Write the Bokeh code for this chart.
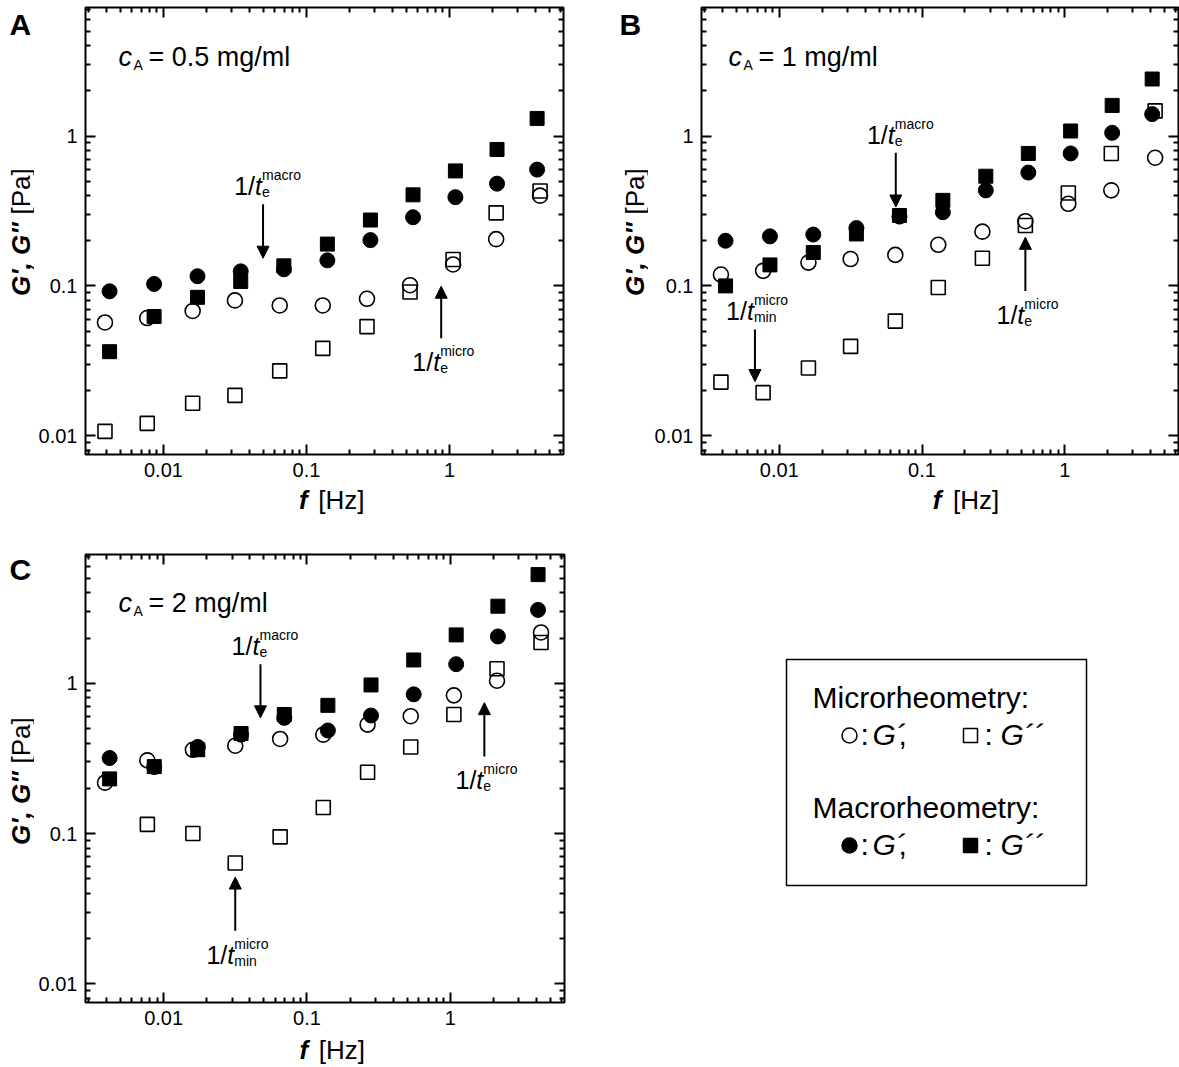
from bokeh.plotting import figure
from bokeh.models import Range1d, FixedTicker, Label, Arrow, NormalHead, LogAxis, CustomJSTickFormatter
from bokeh.layouts import column, row
from bokeh.embed import file_html
from bokeh.resources import INLINE

FONT = "Liberation Sans"

# ---------------- data ----------------
f_micro = [0.0039, 0.0077, 0.0160, 0.0316, 0.0650, 0.130, 0.265, 0.53, 1.06, 2.12, 4.3]
f_macro = [0.0042, 0.0086, 0.0173, 0.0347, 0.0695, 0.140, 0.280, 0.556, 1.10, 2.15, 4.1]

A_micro_G1 = [0.057, 0.061, 0.068, 0.080, 0.074, 0.074, 0.082, 0.101, 0.139, 0.205, 0.40]
A_micro_G2 = [0.0107, 0.0121, 0.0165, 0.0186, 0.0271, 0.0383, 0.0535, 0.091, 0.150, 0.307, 0.43]
A_macro_G1 = [0.092, 0.103, 0.116, 0.125, 0.129, 0.148, 0.202, 0.287, 0.391, 0.481, 0.597]
A_macro_G2 = [0.0364, 0.0625, 0.0839, 0.107, 0.136, 0.190, 0.275, 0.405, 0.585, 0.813, 1.31]

B_micro_G1 = [0.119, 0.126, 0.143, 0.151, 0.161, 0.188, 0.230, 0.270, 0.353, 0.434, 0.716]
B_micro_G2 = [0.0228, 0.0194, 0.0283, 0.0395, 0.0582, 0.0975, 0.153, 0.253, 0.417, 0.765, 1.47]
B_macro_G1 = [0.200, 0.214, 0.220, 0.243, 0.290, 0.310, 0.434, 0.570, 0.765, 1.05, 1.40]
B_macro_G2 = [0.100, 0.138, 0.167, 0.222, 0.295, 0.372, 0.539, 0.765, 1.08, 1.60, 2.40]

C_micro_G1 = [0.218, 0.307, 0.361, 0.384, 0.426, 0.455, 0.531, 0.604, 0.831, 1.04, 2.18]
C_micro_G2 = [float("nan"), 0.115, 0.100, 0.0636, 0.095, 0.149, 0.256, 0.377, 0.62, 1.25, 1.87]
C_macro_G1 = [0.318, 0.277, 0.377, 0.455, 0.589, 0.485, 0.61, 0.844, 1.34, 2.05, 3.08]
C_macro_G2 = [0.231, 0.279, 0.361, 0.463, 0.62, 0.713, 0.975, 1.43, 2.10, 3.26, 5.29]

conc_labels = ["= 0.5 mg/ml", "= 1 mg/ml", "= 2 mg/ml"]
panel_letters = ["A", "B", "C"]

# arrows: (x, y_tail, y_tip, subscript, superscript)
A_arrows = [(0.0497, 0.35, 0.153, "e", "macro"), (0.875, 0.0447, 0.0995, "e", "micro")]
B_arrows = [(0.0655, 0.773, 0.336, "e", "macro"), (0.00675, 0.0512, 0.023, "min", "micro"),
            (0.53, 0.0925, 0.211, "e", "micro")]
C_arrows = [(0.0474, 1.34, 0.589, "e", "macro"), (0.0316, 0.0225, 0.0513, "min", "micro"),
            (1.73, 0.326, 0.743, "e", "micro")]

x_lim = (0.00285, 6.27)
y_lim = (0.0075, 7.2)
major_ticks = [0.01, 0.1, 1]
major_labels = ["0.01", "0.1", "1"]
minor_ticks = [m * 10.0 ** e for e in (-3, -2, -1, 0) for m in range(2, 10)]

tick_fmt_code = """
for (let i = 0; i < mt.length; i++) {
  if (Math.abs(tick - mt[i]) < 1e-6 * mt[i]) { return ml[i]; }
}
return "";
"""


def style_axis(ax, show):
    ax.ticker = FixedTicker(ticks=major_ticks, minor_ticks=minor_ticks)
    labels = major_labels if show else ["" for _ in major_labels]
    ax.formatter = CustomJSTickFormatter(args=dict(mt=major_ticks, ml=labels), code=tick_fmt_code)
    ax.axis_line_color = None
    ax.major_tick_in = 10
    ax.major_tick_out = 0
    ax.minor_tick_in = 5
    ax.minor_tick_out = 0
    ax.major_tick_line_width = 2
    ax.minor_tick_line_width = 2
    ax.major_tick_line_color = "black"
    ax.minor_tick_line_color = "black"
    ax.major_label_text_font = FONT
    if show:
        ax.major_label_text_font_size = "20px"
        ax.major_label_text_color = "black"
        ax.major_label_standoff = 8
    else:
        ax.major_label_text_font_size = "1px"
        ax.major_label_text_color = None
        ax.major_label_standoff = 0


def lbl(p, text, x, y, size, style="normal", align="left", angle=0, xu="data", yu="data", xo=0, yo=0):
    # compensate the renderer's alphabetic-baseline placement (text otherwise sits ~0.36em low)
    corr = round(0.36 * size)
    if angle == 90:
        xo -= corr
    else:
        yo += corr
    p.add_layout(Label(x=x, y=y, x_units=xu, y_units=yu, text=text, text_font=FONT,
                       text_font_size=f"{size}px", text_font_style=style, text_color="black",
                       text_align=align, text_baseline="alphabetic", angle=angle, angle_units="deg",
                       x_offset=xo, y_offset=yo))


def text_fig(x0, x1, y0, y1):
    """Plain figure whose data coordinates are page pixels (y downwards)."""
    t = figure(width=x1 - x0, height=y1 - y0, x_range=Range1d(x0, x1), y_range=Range1d(y1, y0),
               min_border=0, x_axis_location=None, y_axis_location=None,
               output_backend="svg", toolbar_location=None, outline_line_color=None)
    t.xgrid.visible = False
    t.ygrid.visible = False
    return t


def panel(conc, mG1, mG2, MG1, MG2, arrows, left, right, top, bottom, fw, fh, conc_dx, conc_dy):
    p = figure(x_axis_type="log", y_axis_type="log",
               x_range=Range1d(*x_lim), y_range=Range1d(*y_lim),
               frame_width=fw, frame_height=fh,
               min_border_left=left, min_border_right=right, min_border_top=top,
               min_border_bottom=bottom, output_backend="svg", toolbar_location=None)
    p.xgrid.visible = False
    p.ygrid.visible = False
    p.outline_line_color = "black"
    p.outline_line_width = 2
    p.background_fill_color = "white"
    p.border_fill_color = "white"
    style_axis(p.xaxis[0], True)
    style_axis(p.yaxis[0], True)
    top_ax = LogAxis()
    right_ax = LogAxis()
    style_axis(top_ax, False)
    style_axis(right_ax, False)
    p.add_layout(top_ax, "above")
    p.add_layout(right_ax, "right")

    p.scatter(f_micro, mG2, marker="square", size=14, fill_color=None, line_color="black", line_width=1.6)
    p.scatter(f_micro, mG1, marker="circle", size=15, fill_color=None, line_color="black", line_width=1.6)
    p.scatter(f_macro, MG1, marker="circle", size=15, fill_color="black", line_color="black")
    p.scatter(f_macro, MG2, marker="square", size=14, fill_color="black", line_color="black")

    for (ax_, y_tail, y_tip, sub, sup) in arrows:
        p.add_layout(Arrow(x_start=ax_, y_start=y_tail, x_end=ax_, y_end=y_tip, line_width=2,
                           line_color="black",
                           end=NormalHead(size=12, fill_color="black", line_color="black", line_width=1)))
        base = 9 if y_tip < y_tail else -33
        lbl(p, "1/", ax_, y_tail, 25, align="right", xo=-8, yo=base)
        lbl(p, "t", ax_, y_tail, 25, style="italic", xo=-8, yo=base)
        lbl(p, sup, ax_, y_tail, 14, xo=-1, yo=base + 15)
        lbl(p, sub, ax_, y_tail, 14, xo=-1, yo=base - 2)

    lbl(p, "c", conc_dx, fh - conc_dy, 27, style="italic", xu="screen", yu="screen")
    lbl(p, "A", conc_dx + 15, fh - conc_dy - 3, 14, xu="screen", yu="screen")
    lbl(p, conc, conc_dx + 30, fh - conc_dy, 27, xu="screen", yu="screen")
    return p


def ylabel_strip(x0, x1, y0, y1, letter, letter_x, letter_base, lab_x, lab_junction):
    t = text_fig(x0, x1, y0, y1)
    lbl(t, letter, letter_x, letter_base, 30, style="bold")
    lbl(t, "G', G''", lab_x, lab_junction, 26, style="bold italic", align="right", angle=90)
    lbl(t, "[Pa]", lab_x, lab_junction, 26, align="left", angle=90, yo=8)
    return t


def xlabel_strip(x0, x1, y0, y1, f_right, hz_left, base):
    t = text_fig(x0, x1, y0, y1)
    lbl(t, "f", f_right, base, 26, style="bold italic", align="right")
    lbl(t, "[Hz]", hz_left, base, 26, align="left")
    return t


# ---- row 1 ----
sA = ylabel_strip(0, 34, 0, 531, panel_letters[0], 9, 35, 29, 222)
pA = panel(conc_labels[0], A_micro_G1, A_micro_G2, A_macro_G1, A_macro_G2, A_arrows,
           51, 50, 7, 31, 478, 447, 33, 59)
xA = xlabel_strip(34, 613, 485, 531, 303, 316, 508)
sB = ylabel_strip(613, 648, 0, 531, panel_letters[1], 619, 35, 643, 222)
pB = panel(conc_labels[1], B_micro_G1, B_micro_G2, B_macro_G1, B_macro_G2, B_arrows,
           53, 1, 7, 31, 477, 447, 27, 59)
xB = xlabel_strip(648, 1179, 485, 531, 915, 928, 508)

# ---- row 2 ----
sC = ylabel_strip(0, 34, 531, 1067, panel_letters[2], 9, 580, 29, 771)
pC = panel(conc_labels[2], C_micro_G1, C_micro_G2, C_macro_G1, C_macro_G2, C_arrows,
           51, 49, 23, 34, 479, 448, 33, 58)
xC = xlabel_strip(34, 613, 1036, 1067, 303, 316, 1058)

# ---- legend (page-pixel coordinates) ----
pL = text_fig(613, 1179, 531, 1067)
pL.quad(left=[786], right=[1086], top=[659], bottom=[885], fill_color=None, line_color="black", line_width=1.5)
legend_titles = ["Microrheometry:", "Macrorheometry:"]
for i, (title, fill) in enumerate(zip(legend_titles, [None, "black"])):
    ty = 708 + i * 110
    ry = ty + 37
    lbl(pL, title, 812, ty, 30)
    pL.scatter([849], [ry - 10], marker="circle", size=15, fill_color=fill, line_color="black", line_width=1.5)
    lbl(pL, ":", 860, ry, 30)
    lbl(pL, "G\u00b4", 872, ry, 30, style="italic")
    lbl(pL, ",", 898, ry, 30)
    pL.scatter([970], [ry - 10], marker="square", size=14, fill_color=fill, line_color="black", line_width=1.5)
    lbl(pL, ":", 984, ry, 30)
    lbl(pL, "G\u00b4\u00b4", 1000, ry, 30, style="italic")

layout = column(row(sA, column(pA, xA), sB, column(pB, xB)),
                row(sC, column(pC, xC), pL))
open("out.html", "w").write(file_html(layout, INLINE))
